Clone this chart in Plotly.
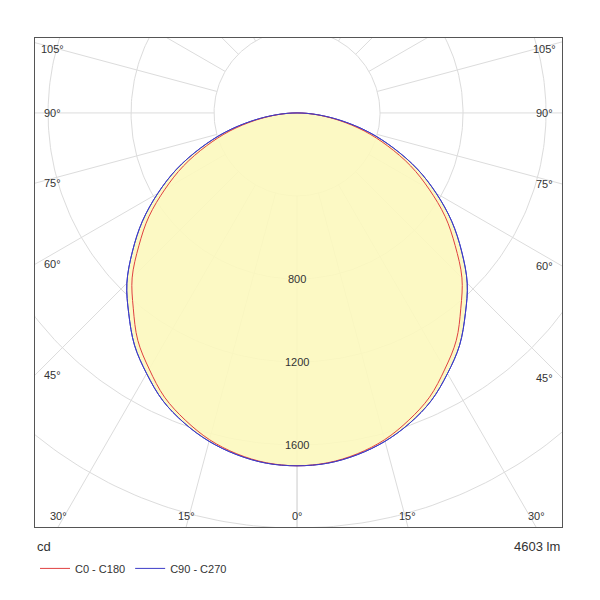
import numpy as np
import plotly.graph_objects as go

# gamma angles (deg from nadir) and intensities (cd)
angles = [0, 5, 10, 15, 20, 25, 30, 35, 40, 45, 50, 55, 60, 65, 70, 75, 80, 85, 90]
c0_c180 = [1700, 1692, 1668, 1630, 1575, 1511, 1425, 1338, 1228, 1124, 995, 872, 735, 604, 465, 335, 205, 91, 0]
c90_c270 = [1700, 1694, 1672, 1638, 1590, 1530, 1450, 1366, 1262, 1160, 1035, 910, 775, 640, 495, 358, 220, 98, 0]
ring_values = [400, 800, 1200, 1600, 2000, 2400, 2800]
ring_labels = [800, 1200, 1600]
spoke_angles = [0, 15, 30, 45, 60, 75, 90, 105, 120, 135, 150, 165, 180]
lumens = "4603 lm"

XR = [-1263, 1277]
YR = [-1995, 361]


def to_xy(ang, vals):
    a = np.radians(ang)
    v = np.asarray(vals, float)
    return v * np.sin(a), -v * np.cos(a)


def lobe(vals):
    ang = np.array(angles, float)
    full_a = np.concatenate([-ang[::-1], ang[1:]])
    full_v = np.concatenate([np.array(vals)[::-1], np.array(vals)[1:]])
    return to_xy(full_a, full_v)


fig = go.Figure()
grid = dict(color="#dcdcdc", width=1)

t = np.linspace(0, 360, 361)
for r in ring_values:
    gx, gy = to_xy(t, [r] * len(t))
    fig.add_trace(go.Scatter(x=gx, y=gy, mode="lines", line=grid, showlegend=False, hoverinfo="skip"))
for s in spoke_angles:
    for sign in (1, -1):
        gx, gy = to_xy([sign * s] * 2, [400, 3200])
        fig.add_trace(go.Scatter(x=gx, y=gy, mode="lines", line=grid, showlegend=False, hoverinfo="skip"))

x0, y0 = lobe(c0_c180)
x9, y9 = lobe(c90_c270)
fig.add_trace(go.Scatter(x=x9, y=y9, mode="lines", fill="toself", fillcolor="rgba(252,248,190,0.9)",
                         line=dict(color="#3c3cc8", width=1, shape="spline"), showlegend=False))
fig.add_trace(go.Scatter(x=x0, y=y0, mode="lines", line=dict(color="#e04040", width=1, shape="spline"),
                         name="C0 - C180"))
fig.add_trace(go.Scatter(x=x9, y=y9, mode="lines", line=dict(color="#3c3cc8", width=1, shape="spline"),
                         name="C90 - C270"))

for r in ring_labels:
    fig.add_annotation(x=0, y=-r, text=str(r), showarrow=False, font=dict(size=11, color="#333"))

# angle labels where spokes meet the frame
for s in [0, 15, 30, 45, 60, 75, 90, 105]:
    for sign in ((1, -1) if s else (1,)):
        a = np.radians(sign * s)
        dx, dy = np.sin(a), -np.cos(a)
        ts = []
        if dx > 1e-9:
            ts.append(XR[1] / dx)
        if dx < -1e-9:
            ts.append(XR[0] / dx)
        if dy < -1e-9:
            ts.append(YR[0] / dy)
        if dy > 1e-9:
            ts.append(YR[1] / dy)
        tt = min(ts)
        px, py = dx * tt, dy * tt
        px = min(max(px, XR[0] + 85), XR[1] - 85)
        py = min(max(py, YR[0] + 55), YR[1] - 55)
        fig.add_annotation(x=px, y=py, text=f"{s}°", showarrow=False, font=dict(size=11, color="#333"))

fig.add_annotation(x=0, y=-0.02, xref="paper", yref="paper", text="cd", showarrow=False,
                   xanchor="left", yanchor="top", font=dict(size=13, color="#333"))
fig.add_annotation(x=1, y=-0.02, xref="paper", yref="paper", text=lumens, showarrow=False,
                   xanchor="right", yanchor="top", font=dict(size=13, color="#333"))

fig.update_layout(
    width=600, height=600,
    paper_bgcolor="white", plot_bgcolor="white",
    margin=dict(l=27, r=46, t=30, b=81),
    font=dict(family="Arial, Liberation Sans, sans-serif", color="#333"),
    legend=dict(orientation="h", x=0, y=-0.055, xanchor="left", yanchor="top",
                font=dict(size=11), itemwidth=30, tracegroupgap=0),
    xaxis=dict(range=XR, showgrid=False, zeroline=False, showticklabels=False,
               showline=True, mirror=True, linecolor="#555", linewidth=1),
    yaxis=dict(range=YR, showgrid=False, zeroline=False, showticklabels=False,
               showline=True, mirror=True, linecolor="#555", linewidth=1),
    showlegend=True,
)

fig.write_html("out.html")
